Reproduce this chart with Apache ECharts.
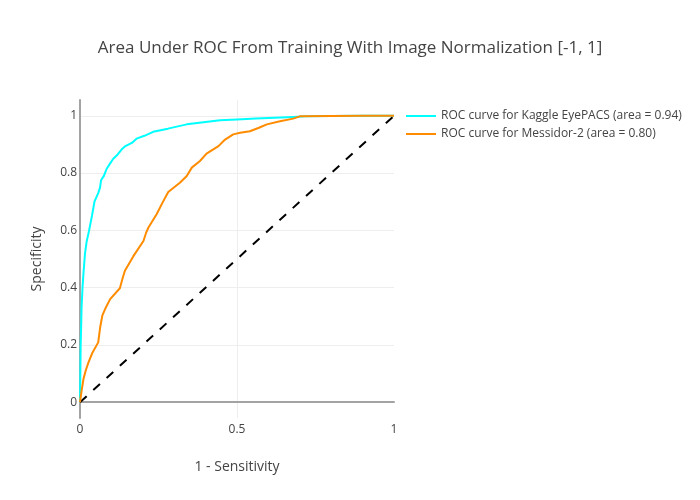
<!DOCTYPE html>
<html>
<head>
<meta charset="utf-8">
<script src="https://cdn.jsdelivr.net/npm/echarts@6/dist/echarts.min.js"></script>
<style>html,body{margin:0;padding:0;background:#fff}#c{width:700px;height:500px}</style>
</head>
<body>
<div id="c"></div>
<script>
const titleText = 'Area Under ROC From Training With Image Normalization [-1, 1]';
const xAxisTitle = '1 - Sensitivity';
const yAxisTitle = 'Specificity';
const seriesNames = ['ROC curve for Kaggle EyePACS (area = 0.94)', 'ROC curve for Messidor-2 (area = 0.80)'];
const yTicks = [0, 0.2, 0.4, 0.6, 0.8, 1];
const xTicks = [0, 0.5, 1];

const kaggleX = [0, 0.002, 0.005, 0.008, 0.011, 0.016, 0.021, 0.029, 0.038, 0.046, 0.058, 0.064, 0.067, 0.076, 0.085, 0.095, 0.106, 0.120, 0.133, 0.143, 0.165, 0.180, 0.205, 0.233, 0.28, 0.34, 0.40, 0.446, 0.50, 0.56, 0.62, 0.68, 0.72, 0.8, 0.9, 1];
const kaggleY = [0, 0.19, 0.33, 0.40, 0.45, 0.52, 0.56, 0.60, 0.65, 0.70, 0.73, 0.75, 0.775, 0.79, 0.815, 0.832, 0.85, 0.865, 0.883, 0.893, 0.905, 0.92, 0.93, 0.944, 0.955, 0.97, 0.978, 0.984, 0.987, 0.99, 0.993, 0.996, 0.998, 0.999, 1.0, 1];

const messidorX = [0, 0.005, 0.011, 0.018, 0.027, 0.040, 0.058, 0.064, 0.071, 0.082, 0.096, 0.127, 0.135, 0.143, 0.17, 0.202, 0.210, 0.218, 0.244, 0.262, 0.281, 0.318, 0.340, 0.356, 0.382, 0.403, 0.441, 0.462, 0.488, 0.510, 0.541, 0.570, 0.595, 0.637, 0.679, 0.70, 0.8, 0.9, 1];
const messidorY = [0, 0.04, 0.081, 0.11, 0.139, 0.174, 0.209, 0.26, 0.302, 0.33, 0.36, 0.398, 0.43, 0.459, 0.51, 0.563, 0.59, 0.61, 0.656, 0.695, 0.734, 0.766, 0.79, 0.819, 0.842, 0.868, 0.894, 0.917, 0.935, 0.941, 0.946, 0.958, 0.970, 0.981, 0.990, 0.998, 0.999, 1, 1];

const chanceX = [0, 1];
const chanceY = [0, 1];

const zip = (xs, ys) => xs.map((x, i) => [x, ys[i]]);
const font = '"Open Sans", "Noto Sans", sans-serif';
const txt = '#444';
const axisGrey = '#a3a3a3';

const chart = echarts.init(document.getElementById('c'), null, {renderer: 'canvas'});
chart.setOption({
  animation: false,
  backgroundColor: '#fff',
  textStyle: {fontFamily: font, color: txt},
  title: {
    text: titleText, left: 'center', top: 35,
    textStyle: {fontFamily: font, fontSize: 17, fontWeight: 'normal', color: txt}
  },
  legend: {
    data: seriesNames, orient: 'vertical', left: 406, top: 110, padding: 0,
    icon: 'rect', itemWidth: 30, itemHeight: 2, itemGap: 6,
    textStyle: {fontFamily: font, fontSize: 12, color: txt}
  },
  grid: {left: 80, right: 306, top: 100, bottom: 82, containLabel: false},
  xAxis: {
    type: 'value', min: 0, max: 1,
    name: xAxisTitle, nameLocation: 'middle', nameGap: 42,
    nameTextStyle: {fontFamily: font, fontSize: 14, color: txt},
    axisLine: {show: true, onZero: true, lineStyle: {color: axisGrey, width: 2}},
    axisTick: {show: false, customValues: xTicks},
    axisLabel: {customValues: xTicks, margin: 6, fontFamily: font, fontSize: 12, color: txt},
    splitLine: {show: true, showMinLine: false, showMaxLine: false, lineStyle: {color: '#eee', width: 1}}
  },
  yAxis: {
    type: 'value', min: -0.055, max: 1.055,
    name: yAxisTitle, nameLocation: 'middle', nameGap: 36, nameRotate: 90,
    nameTextStyle: {fontFamily: font, fontSize: 14, color: txt},
    axisLine: {show: true, onZero: false, lineStyle: {color: axisGrey, width: 2}},
    axisTick: {show: false, customValues: yTicks},
    axisLabel: {customValues: yTicks, margin: 3, fontFamily: font, fontSize: 12, color: txt},
    splitLine: {show: true, lineStyle: {color: '#eee', width: 1}}
  },
  series: [
    {
      name: 'chance', type: 'line', data: zip(chanceX, chanceY), symbol: 'none', z: 3,
      lineStyle: {color: '#000', width: 2, type: [9, 9]}, silent: true
    },
    {
      name: seriesNames[0], type: 'line', data: zip(kaggleX, kaggleY), symbol: 'none', z: 2,
      color: '#00ffff', lineStyle: {color: '#00ffff', width: 2}
    },
    {
      name: seriesNames[1], type: 'line', data: zip(messidorX, messidorY), symbol: 'none', z: 4,
      color: '#ff8c00', lineStyle: {color: '#ff8c00', width: 2}
    }
  ]
});
</script>
</body>
</html>
